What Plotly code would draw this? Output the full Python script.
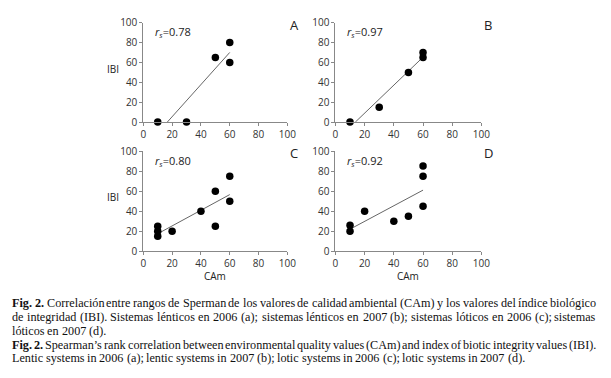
import numpy as np
import plotly.graph_objects as go

# ---- data ----
panels = ["A", "B", "C", "D"]
rs_labels = ["0.78", "0.97", "0.80", "0.92"]
camA = [10, 30, 50, 60, 60]
ibiA = [0, 0, 65, 80, 60]
camB = [10, 30, 50, 60, 60]
ibiB = [0, 15, 50, 70, 65]
camC = [10, 10, 10, 20, 40, 50, 50, 60, 60]
ibiC = [25, 20, 15, 20, 40, 60, 25, 75, 50]
camD = [10, 10, 20, 40, 50, 60, 60, 60]
ibiD = [26, 20, 40, 30, 35, 85, 75, 45]
tick_vals = [0, 20, 40, 60, 80, 100]
x_title = "CAm"
y_title = "IBI"
caption_lines = [
    "Fig. 2. Correlación entre rangos de Sperman de los valores de calidad ambiental (CAm) y los valores del índice biológico",
    "de integridad (IBI). Sistemas lénticos en 2006 (a); sistemas lénticos en 2007 (b); sistemas lóticos en 2006 (c); sistemas",
    "lóticos en 2007 (d).",
    "Fig. 2. Spearman’s rank correlation between environmental quality values (CAm) and index of biotic integrity values (IBI).",
    "Lentic systems in 2006 (a); lentic systems in 2007 (b); lotic systems in 2006 (c); lotic systems in 2007 (d).",
]
caption_justified = [True, True, False, True, False]
caption_bold_words = 2

series = [(camA, ibiA), (camB, ibiB), (camC, ibiC), (camD, ibiD)]

# page body has an 8px margin: figure is drawn at (8, 8) inside the 611x378 window
OFF = 8
W, H = 611 - OFF, 378 - OFF


def px(s):  # screen x -> paper fraction
    return (s - OFF) / W


def py(s):  # screen y -> paper fraction
    return 1 - (s - OFF) / H


# plot-area boxes in screen pixels (left, right, top, bottom)
boxes = [(143, 290, 16, 119), (339, 488, 16, 119),
         (143, 290, 149, 253), (339, 488, 149, 253)]

fig = go.Figure()
sans = "Open Sans, Noto Sans, sans-serif"
axis_font = dict(family=sans, size=10, color="#333")

for i, ((xs, ys), (l, r, t, b)) in enumerate(zip(series, boxes)):
    n = i + 1
    xa = "x" if n == 1 else f"x{n}"
    ya = "y" if n == 1 else f"y{n}"
    xs_a = np.array(xs, float)
    ys_a = np.array(ys, float)
    slope, icpt = np.polyfit(xs_a, ys_a, 1)
    x0 = max(xs_a.min(), -icpt / slope)
    x1 = xs_a.max()
    fig.add_trace(go.Scatter(x=[x0, x1], y=[slope * x0 + icpt, slope * x1 + icpt],
                             mode="lines", line=dict(color="#666", width=1),
                             xaxis=xa, yaxis=ya, showlegend=False, hoverinfo="skip"))
    fig.add_trace(go.Scatter(x=xs, y=ys, mode="markers",
                             marker=dict(color="black", size=7.5),
                             xaxis=xa, yaxis=ya, showlegend=False, cliponaxis=False))
    axkey = "xaxis" if n == 1 else f"xaxis{n}"
    aykey = "yaxis" if n == 1 else f"yaxis{n}"
    fig.update_layout(**{
        axkey: dict(domain=[px(l), px(r)], range=[0, 100], tickvals=tick_vals,
                    showgrid=False, zeroline=False, showline=True, linecolor="#888",
                    linewidth=1, ticks="outside", ticklen=3, tickcolor="#888",
                    tickfont=axis_font, anchor=ya, fixedrange=True),
        aykey: dict(domain=[py(b), py(t)], range=[0, 100], tickvals=tick_vals,
                    showgrid=False, zeroline=False, showline=True, linecolor="#888",
                    linewidth=1, ticks="outside", ticklen=3, tickcolor="#888",
                    tickfont=axis_font, anchor=xa, fixedrange=True),
    })
    fig.add_annotation(x=px(l + 10), y=py(t + 10), xref="paper", yref="paper",
                       text=f"<i>r</i><sub><i>s</i></sub>={rs_labels[i]}", showarrow=False,
                       xanchor="left", yanchor="middle", font=dict(family=sans, size=11, color="#222"))
    fig.add_annotation(x=px(r + 7), y=py(t + 2), xref="paper", yref="paper",
                       text=panels[i], showarrow=False, xanchor="center", yanchor="middle",
                       font=dict(family=sans, size=13, color="#222"))
    if i in (0, 2):
        fig.add_annotation(x=px(112), y=py((t + b) / 2 - 4), xref="paper", yref="paper",
                           text=y_title, showarrow=False, xanchor="center", yanchor="middle",
                           font=dict(family=sans, size=10, color="#222"))
    if i in (2, 3):
        fig.add_annotation(x=px((l + r) / 2), y=py(278), xref="paper", yref="paper",
                           text=x_title, showarrow=False, xanchor="center", yanchor="middle",
                           font=dict(family=sans, size=10, color="#222"))

# ---- caption: justified text using Times metrics ----
TR = {' ': 250, '(': 333, ')': 333, ',': 250, '.': 250, ';': 278, '’': 333,
      '0': 500, '1': 500, '2': 500, '3': 500, '4': 500, '5': 500, '6': 500, '7': 500,
      '8': 500, '9': 500,
      'A': 722, 'B': 667, 'C': 667, 'D': 722, 'E': 611, 'F': 556, 'G': 722, 'H': 722,
      'I': 333, 'J': 389, 'K': 722, 'L': 611, 'M': 889, 'N': 722, 'O': 722, 'P': 556,
      'Q': 722, 'R': 667, 'S': 556, 'T': 611, 'U': 722, 'V': 722, 'W': 944, 'X': 722,
      'Y': 722, 'Z': 611,
      'a': 444, 'b': 500, 'c': 444, 'd': 500, 'e': 444, 'f': 333, 'g': 500, 'h': 500,
      'i': 278, 'j': 278, 'k': 500, 'l': 278, 'm': 778, 'n': 500, 'o': 500, 'p': 500,
      'q': 500, 'r': 333, 's': 389, 't': 278, 'u': 500, 'v': 500, 'w': 722, 'x': 500,
      'y': 500, 'z': 444, 'á': 444, 'é': 444, 'í': 278, 'ó': 500}
TB = {'F': 611, 'i': 278, 'g': 500, '.': 250, '2': 500}

serif = "Liberation Serif, Times New Roman, serif"
fs = 12.2
left_s, right_s = OFF + 1, 605
line_y = [306, 320.5, 335, 349.5, 364]
width_scale = 1.01


def wwidth(word, bold):
    table = TB if bold else TR
    return sum(table.get(c, TR.get(c, 500)) for c in word) * fs / 1000.0 * width_scale


for li, (txt, yy, just) in enumerate(zip(caption_lines, line_y, caption_justified)):
    words = txt.split(" ")
    bold_flags = [txt.startswith("Fig. 2.") and k < caption_bold_words for k in range(len(words))]
    widths = [wwidth(w, bf) for w, bf in zip(words, bold_flags)]
    if just:
        gap = (right_s - left_s - sum(widths)) / (len(words) - 1)
    else:
        gap = TR[' '] * fs / 1000.0
    xpos = left_s
    for k, (w, bf, wd) in enumerate(zip(words, bold_flags, widths)):
        last = just and k == len(words) - 1
        fig.add_annotation(x=px(right_s if last else xpos), y=py(yy),
                           xref="paper", yref="paper",
                           text=f"<b>{w}</b>" if bf else w, showarrow=False,
                           xanchor="right" if last else "left", yanchor="middle",
                           borderpad=0, borderwidth=0,
                           font=dict(family=serif, size=fs, color="#111"))
        xpos += wd + gap

fig.update_layout(width=W, height=H, margin=dict(l=0, r=0, t=0, b=0),
                  paper_bgcolor="white", plot_bgcolor="white")
fig.write_html("out.html")
